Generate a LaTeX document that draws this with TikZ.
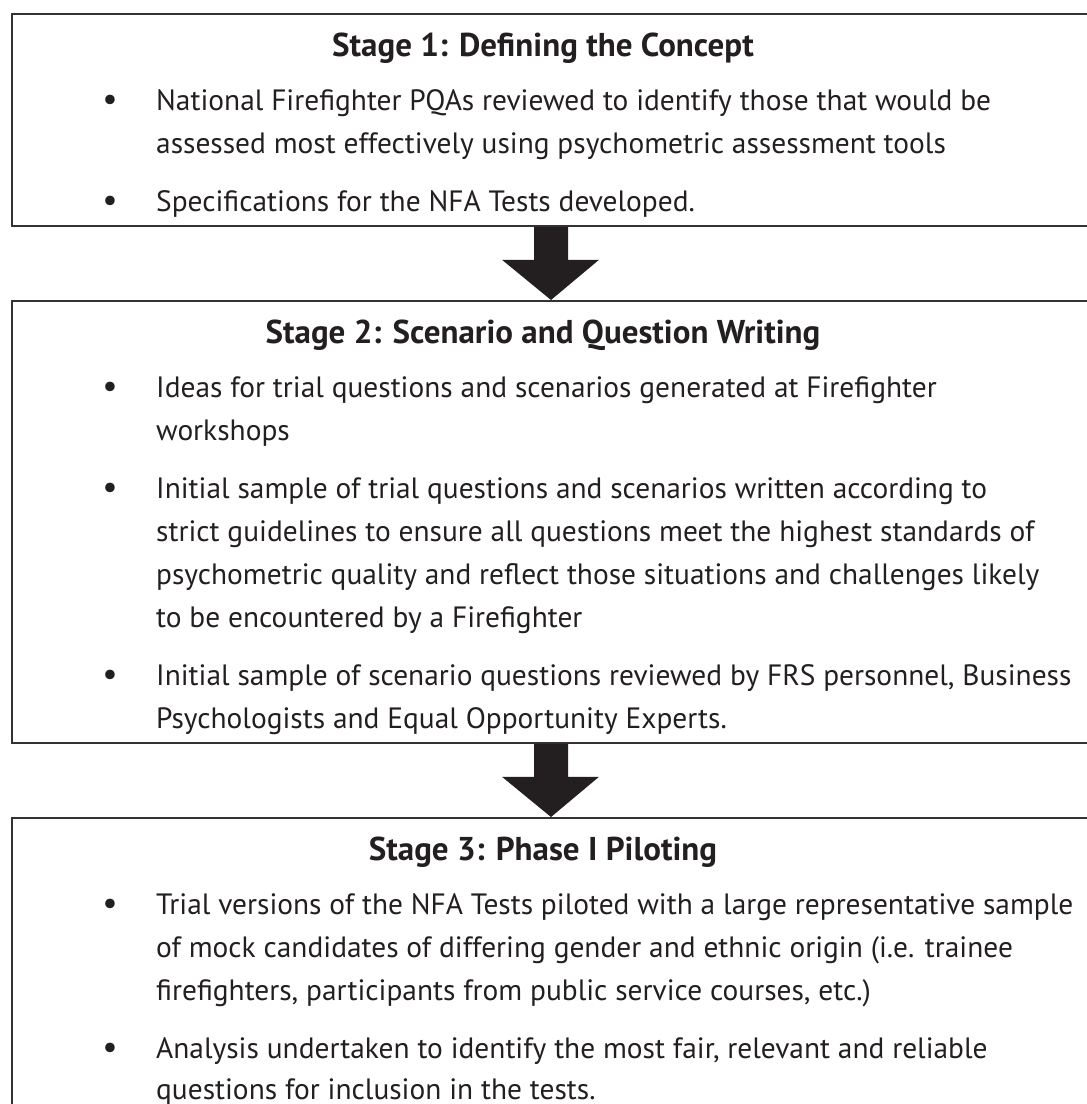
\documentclass[tikz,border=0pt]{standalone}
\usepackage{fontspec}
\setmainfont{PT Sans}
\usetikzlibrary{calc}
\definecolor{ink}{HTML}{231F20}
\definecolor{frame}{HTML}{333333}
\tikzset{
  x=1pt, y=-1pt,
  stagebox/.style={draw=frame, line width=1.8pt, rectangle, inner sep=0pt, anchor=north west},
  title/.style={anchor=base, inner sep=0pt, text=ink, font=\fontsize{33}{38}\selectfont\bfseries},
  txt/.style={anchor=base west, inner sep=0pt, text=ink, font=\fontsize{29.4}{36}\selectfont},
  bul/.style={anchor=base, inner sep=0pt, text=ink, font=\fontsize{34}{36}\selectfont},
  blockarrow/.style={fill=ink, draw=none}
}
\begin{document}
\begin{tikzpicture}
\useasboundingbox (0,0) rectangle (1087,1104);
% boxes
\node[stagebox, minimum width=1100pt, minimum height=212pt] (s1) at (11,13) {};
\node[stagebox, minimum width=1100pt, minimum height=442pt] (s2) at (11,300) {};
\node[stagebox, minimum width=1100pt, minimum height=320pt] (s3) at (11,817) {};
% arrows
\coordinate (a1) at (s1.south -| 551,0);
\coordinate (t1) at (s2.north -| 551,0);
\fill[blockarrow] ($(a1)+(-17,0)$) -- ($(a1)+(17,0)$) -- ($(a1)+(17,33)$) -- ($(a1)+(48,33)$) -- (t1) -- ($(a1)+(-49,33)$) -- ($(a1)+(-17,33)$) -- cycle;
\coordinate (a2) at (s2.south -| 551,0);
\coordinate (t2) at (s3.north -| 551,0);
\fill[blockarrow] ($(a2)+(-17,0)$) -- ($(a2)+(17,0)$) -- ($(a2)+(17,33)$) -- ($(a2)+(48,33)$) -- (t2) -- ($(a2)+(-49,33)$) -- ($(a2)+(-17,33)$) -- cycle;
% stage 1
\node[title] (h1) at (543,56) {Stage 1: Defining the Concept};
\node[bul] (b11) at (110,110) {•};
\node[txt] (l11) at (156,110) {National Firefighter PQAs reviewed to identify those that would be};
\node[txt] (l12) at (156,153) {assessed most effectively using psychometric assessment tools};
\node[bul] (b12) at (110,211) {•};
\node[txt] (l13) at (156,211) {Specifications for the NFA Tests developed.};
% stage 2
\node[title] (h2) at (543,343) {Stage 2: Scenario and Question Writing};
\node[bul] (b21) at (110,397) {•};
\node[txt] (l21) at (156,397) {Ideas for trial questions and scenarios generated at Firefighter};
\node[txt] (l22) at (156,440) {workshops};
\node[bul] (b22) at (110,498) {•};
\node[txt] (l23) at (156,498) {Initial sample of trial questions and scenarios written according to};
\node[txt] (l24) at (156,541) {strict guidelines to ensure all questions meet the highest standards of};
\node[txt] (l25) at (156,584) {psychometric quality and reflect those situations and challenges likely};
\node[txt] (l26) at (156,627) {to be encountered by a Firefighter};
\node[bul] (b23) at (110,685) {•};
\node[txt] (l27) at (156,685) {Initial sample of scenario questions reviewed by FRS personnel, Business};
\node[txt] (l28) at (156,728) {Psychologists and Equal Opportunity Experts.};
% stage 3
\node[title] (h3) at (543,860) {Stage 3: Phase I Piloting};
\node[bul] (b31) at (110,914) {•};
\node[txt] (l31) at (156,914) {Trial versions of the NFA Tests piloted with a large representative sample};
\node[txt] (l32) at (156,957) {of mock candidates of differing gender and ethnic origin (i.e. trainee};
\node[txt] (l33) at (156,1000) {firefighters, participants from public service courses, etc.)};
\node[bul] (b32) at (110,1058) {•};
\node[txt] (l34) at (156,1058) {Analysis undertaken to identify the most fair, relevant and reliable};
\node[txt] (l35) at (156,1099) {questions for inclusion in the tests.};
\end{tikzpicture}
\end{document}
